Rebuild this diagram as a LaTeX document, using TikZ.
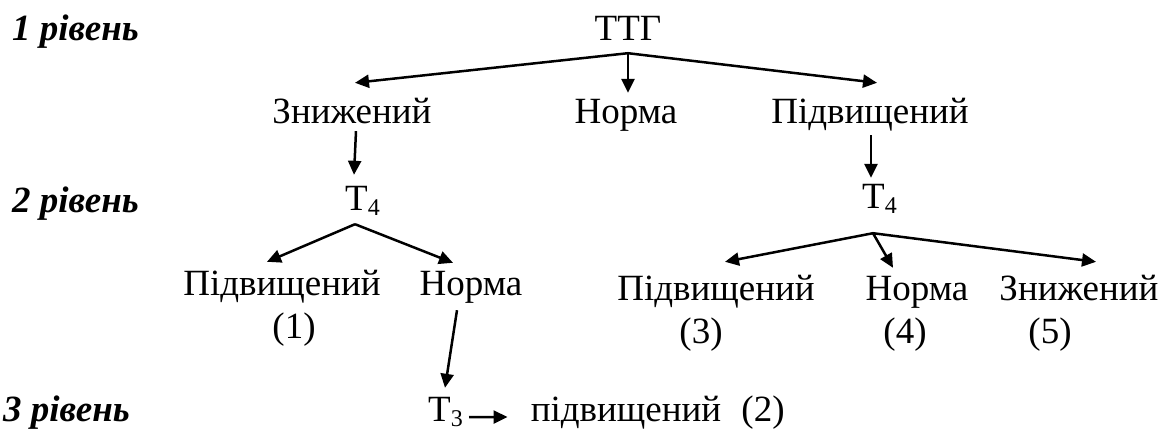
\documentclass[tikz,border=0pt]{standalone}
\usepackage{fontspec}
\setmainfont{Liberation Serif}
\usetikzlibrary{arrows.meta}
\newcommand{\sbs}[1]{\raisebox{-5pt}{\fontsize{24}{24}\selectfont #1}}
\begin{document}
\begin{tikzpicture}[x=1pt,y=-1pt,
  txt/.style={inner sep=0pt,text height=26pt,text depth=8pt,font=\fontsize{37}{44}\selectfont},
  lvl/.style={inner sep=0pt,anchor=base west,font=\fontsize{37}{44}\selectfont\bfseries\itshape},
  arr/.style={line width=2.5pt,-{Triangle[length=14pt,width=13pt]}}]
\useasboundingbox (0,0) rectangle (1171,432);
% level labels
\node[lvl] (l1) at (12,40) {1 рівень};
\node[lvl] (l2) at (12,212) {2 рівень};
\node[lvl] (l3) at (3,421) {3 рівень};
% level 1
\node[txt,anchor=base] (ttg) at (628,40) {ТТГ};
\node[txt,anchor=base] (z1) at (352,123) {Знижений};
\node[txt,anchor=base] (n1) at (626,123) {Норма};
\node[txt,anchor=base] (p1) at (870,123) {Підвищений};
% level 2
\node[txt,anchor=base west] (t4a) at (345,210) {T\sbs{4}};
\node[txt,anchor=base west] (t4b) at (862,208) {T\sbs{4}};
\node[txt,anchor=base] (p2) at (282,295) {Підвищений};
\node[txt,anchor=base] (c1) at (294,338) {(1)};
\node[txt,anchor=base] (n2) at (471,295) {Норма};
\node[txt,anchor=base] (p3) at (716,300) {Підвищений};
\node[txt,anchor=base] (c3) at (701,343) {(3)};
\node[txt,anchor=base] (n3) at (917,300) {Норма};
\node[txt,anchor=base] (c4) at (905,343) {(4)};
\node[txt,anchor=base] (z3) at (1079,300) {Знижений};
\node[txt,anchor=base] (c5) at (1050,343) {(5)};
% level 3
\node[txt,anchor=base west] (t3) at (428,421) {T\sbs{3}};
\node[txt,anchor=base] (pid) at (626,421) {підвищений};
\node[txt,anchor=base] (c2) at (763,421) {(2)};
% roots
\coordinate (r0) at ([yshift=-5pt]ttg.south);
\coordinate (r1) at ([shift={(10pt,-6pt)}]t4a.south west);
\coordinate (r2) at ([shift={(11pt,-17pt)}]t4b.south west);
% arrows level 1
\draw[arr] (r0) -- ([shift={(3pt,14pt)}]z1.north);
\draw[arr] (r0) -- ([shift={(2pt,4pt)}]n1.north);
\draw[arr] (r0) -- ([shift={(7pt,14pt)}]p1.north);
\draw[arr] ([shift={(4pt,0pt)}]z1.south) -- ([shift={(9pt,9pt)}]t4a.north west);
\draw[arr] ([shift={(1pt,-4pt)}]p1.south) -- ([shift={(9pt,4pt)}]t4b.north west);
% arrows level 2
\draw[arr] (r1) -- ([shift={(-15pt,7pt)}]p2.north);
\draw[arr] (r1) -- ([shift={(-18pt,6pt)}]n2.north);
\draw[arr] (r2) -- ([shift={(9pt,12pt)}]p3.north);
\draw[arr] (r2) -- ([shift={(-24pt,6pt)}]n3.north);
\draw[arr] (r2) -- ([shift={(17pt,12pt)}]z3.north);
% arrows level 3
\draw[arr] ([shift={(-14pt,-7pt)}]n2.south) -- ([shift={(17pt,7pt)}]t3.north west);
\draw[arr] ([shift={(6pt,12pt)}]t3.south east) -- ([shift={(-23pt,4pt)}]pid.base west);
\end{tikzpicture}
\end{document}
